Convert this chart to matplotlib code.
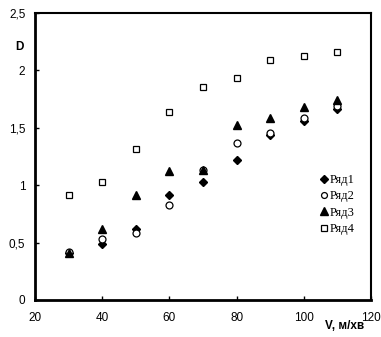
import matplotlib
matplotlib.use("Agg")
import matplotlib.pyplot as plt

# speed V, m/min
v = [30, 40, 50, 60, 70, 80, 90, 100, 110]

ryad1 = [0.41, 0.49, 0.62, 0.91, 1.03, 1.22, 1.44, 1.56, 1.66]
ryad2 = [0.42, 0.53, 0.58, 0.83, 1.13, 1.37, 1.45, 1.58, 1.69]
ryad3 = [0.41, 0.62, 0.91, 1.12, 1.13, 1.52, 1.58, 1.68, 1.74]
ryad4 = [0.915, 1.03, 1.31, 1.64, 1.85, 1.93, 2.09, 2.12, 2.16]

x_ticks = [20, 40, 60, 80, 100, 120]
y_ticks = [0, 0.5, 1, 1.5, 2, 2.5]
y_labels = ["0", "0,5", "1", "1,5", "2", "2,5"]

plt.rcParams["font.family"] = ["Liberation Sans", "DejaVu Sans"]

fig = plt.figure(figsize=(3.81, 3.37), dpi=100)
ax = fig.add_axes([0.092, 0.11, 0.882, 0.852])

ax.plot(v, ryad1, linestyle="none", marker="D", markersize=4.5,
        color="black", label="Ряд1")
ax.plot(v, ryad2, linestyle="none", marker="o", markersize=5,
        markerfacecolor="white", markeredgecolor="black", markeredgewidth=0.9,
        label="Ряд2")
ax.plot(v, ryad3, linestyle="none", marker="^", markersize=6,
        color="black", label="Ряд3")
ax.plot(v, ryad4, linestyle="none", marker="s", markersize=5,
        markerfacecolor="white", markeredgecolor="black", markeredgewidth=0.9,
        label="Ряд4")

ax.set_xlim(20, 120)
ax.set_ylim(0, 2.5)
ax.set_xticks(x_ticks)
ax.set_yticks(y_ticks)
ax.set_yticklabels(y_labels)
ax.tick_params(direction="in", length=3, width=1, labelsize=8.5, pad=7)
ax.tick_params(axis="x", pad=9)

for side in ["left", "bottom"]:
    ax.spines[side].set_linewidth(2)
for side in ["top", "right"]:
    ax.spines[side].set_linewidth(1.5)

fig.text(0.052, 0.86, "D", fontsize=8.5, fontweight="bold", ha="center", va="center")
fig.text(0.905, 0.033, "V, м/хв", fontsize=8.5, fontweight="bold", ha="center", va="center")

leg = ax.legend(loc="center right", bbox_to_anchor=(0.985, 0.332), frameon=False,
                prop={"family": "Liberation Serif", "size": 9},
                handletextpad=0.05, handlelength=0.9, labelspacing=0.35,
                markerscale=0.85)

fig.savefig("out.png", dpi=100)
